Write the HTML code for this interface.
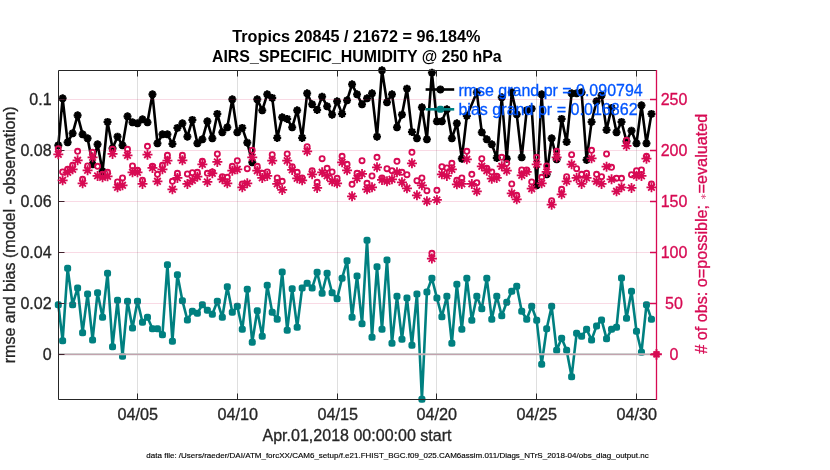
<!DOCTYPE html>
<html><head><meta charset="utf-8"><title>obs diag</title>
<style>html,body{margin:0;padding:0;background:#fff}svg{display:block;will-change:transform}text{font-family:"Liberation Sans",sans-serif}</style></head><body>
<svg width="830" height="470" viewBox="0 0 830 470">
<defs>
<g id="k"><circle r="3.0" fill="#000"/><path d="M-4 0H4M0-4V4M-2.85-2.85L2.85 2.85M-2.85 2.85L2.85-2.85" stroke="#000" stroke-width="2.3" fill="none"/></g>
<rect id="t" x="-3.5" y="-3.5" width="7" height="7" rx="2.5" fill="#008080"/>
<circle id="o" r="2.55" fill="none" stroke="#d70a53" stroke-width="1.85"/>
<path id="s" d="M-5 0H5M0-5V5M-3.3-3.3L3.3 3.3M-3.3 3.3L3.3-3.3" stroke="#d70a53" stroke-width="1.8" fill="none"/>
</defs>
<rect width="830" height="470" fill="#fff"/>
<g stroke="#262626" stroke-opacity="0.15" stroke-width="1" fill="none">
<path d="M137.5 70.5V399.5"/>
<path d="M237.5 70.5V399.5"/>
<path d="M337.5 70.5V399.5"/>
<path d="M436.5 70.5V399.5"/>
<path d="M536.5 70.5V399.5"/>
<path d="M636.5 70.5V399.5"/>
</g>
<polyline points="58.3,304.7 62.64,340.7 67.63,268.3 72.62,304.7 77.61,287.9 82.6,332.7 87.59,293.9 92.58,339.9 97.57,292.7 102.56,317.3 107.55,273.3 112.54,346.7 117.53,300.3 122.52,356.3 127.51,301.3 132.5,327.9 137.49,301.3 142.48,322.3 147.47,317.3 152.46,328.7 157.45,328.7 162.44,334.7 167.43,264.7 172.42,341.3 177.41,274.7 182.4,300.7 187.39,319.9 192.38,311.3 197.37,313.3 202.36,304.7 207.35,310.3 212.34,314.3 217.33,301.3 222.32,317.3 227.31,286.7 232.3,312.3 237.29,306.3 242.28,329.3 247.27,289.3 252.26,342.3 257.25,310.7 262.24,336.3 267.23,285.3 272.22,312.3 277.21,319.3 282.2,271.9 287.19,330.3 292.18,288.7 297.17,327.3 302.16,287.9 307.15,283.3 312.14,287.9 317.13,272.3 322.12,293.3 327.11,273.3 332.1,292.7 337.09,298.7 342.08,278.3 347.07,260.7 352.06,317.3 357.05,275.9 362.04,323.8 367.03,240.3 372.02,337.3 377.01,266.7 382.0,329.3 386.99,259.9 391.98,343.3 396.97,296.3 401.96,339.3 406.95,297.9 411.94,345.3 416.93,293.9 421.92,399.3 426.91,291.9 431.9,278.3 436.89,297.9 441.88,316.7 446.87,296.3 451.86,343.3 456.85,284.3 461.84,329.3 466.83,278.3 471.82,320.3 476.81,296.3 481.8,308.7 486.79,278.3 491.78,319.3 496.77,296.3 501.76,315.7 506.75,302.3 511.74,291.3 516.73,286.3 521.72,311.3 526.71,319.3 531.7,306.3 536.69,320.3 541.68,364.3 546.67,328.7 551.66,306.3 556.65,350.3 561.64,338.3 566.63,350.3 571.62,376.7 576.61,333.3 581.6,336.3 586.59,329.3 591.58,339.9 596.57,325.9 601.56,319.9 606.55,338.7 611.54,329.3 616.53,327.3 621.52,277.9 626.51,318.3 631.5,291.3 636.49,331.3 641.48,352.3 646.47,304.7 651.46,319.3" fill="none" stroke="#008080" stroke-width="2.6" stroke-linejoin="round"/>
<polyline points="58.3,145.3 62.64,98.3 67.63,142.3 72.62,133.3 77.61,115.3 82.6,134.3 87.59,138.3 92.58,164.3 97.57,144.3 102.56,171.3 107.55,121.9 112.54,148.3 117.53,136.7 122.52,145.3 127.51,116.3 132.5,122.3 137.49,123.3 142.48,119.3 147.47,122.3 152.46,94.3 157.45,143.3 162.44,134.3 167.43,134.3 172.42,143.9 177.41,127.9 182.4,123.3 187.39,136.7 192.38,119.9 197.37,143.3 202.36,139.3 207.35,121.3 212.34,138.3 217.33,113.9 222.32,132.3 227.31,127.3 232.3,99.3 237.29,132.3 242.28,127.9 247.27,142.7 252.26,162.3 257.25,99.3 262.24,110.3 267.23,94.3 272.22,97.9 277.21,137.9 282.2,117.3 287.19,118.9 292.18,127.3 297.17,110.3 302.16,137.9 307.15,93.3 312.14,104.3 317.13,109.9 322.12,96.7 327.11,106.3 332.1,114.7 337.09,101.3 342.08,113.9 347.07,100.3 352.06,84.3 357.05,94.3 362.04,104.3 367.03,98.3 372.02,93.3 377.01,136.7 382.0,70.3 386.99,102.3 391.98,94.3 396.97,127.3 401.96,114.7 406.95,88.7 411.94,131.9 416.93,138.3 421.92,107.3 426.91,139.3 431.9,72.7 436.89,121.3 441.88,121.3 446.87,109.3 451.86,138.3 456.85,123.3 461.84,158.7 466.83,115.9 471.82,104.3 476.81,92.3 481.8,132.3 486.79,139.3 491.78,144.3 496.77,157.9 501.76,97.3 506.75,158.7 511.74,92.3 516.73,114.3 521.72,157.3 526.71,110.3 531.7,108.7 536.69,185.3 541.68,94.3 546.67,174.3 551.66,138.3 556.65,159.3 561.64,118.9 566.63,141.9 571.62,93.3 576.61,93.3 581.6,92.3 586.59,159.9 591.58,121.9 596.57,101.3 601.56,95.3 606.55,129.9 611.54,107.9 616.53,132.3 621.52,121.9 626.51,141.3 631.5,130.7 636.49,143.3 641.48,105.3 646.47,143.3 651.46,113.9" fill="none" stroke="#000" stroke-width="2.6" stroke-linejoin="round"/>
<g><use href="#t" x="58.3" y="304.7"/><use href="#t" x="62.64" y="340.7"/><use href="#t" x="67.63" y="268.3"/><use href="#t" x="72.62" y="304.7"/><use href="#t" x="77.61" y="287.9"/><use href="#t" x="82.6" y="332.7"/><use href="#t" x="87.59" y="293.9"/><use href="#t" x="92.58" y="339.9"/><use href="#t" x="97.57" y="292.7"/><use href="#t" x="102.56" y="317.3"/><use href="#t" x="107.55" y="273.3"/><use href="#t" x="112.54" y="346.7"/><use href="#t" x="117.53" y="300.3"/><use href="#t" x="122.52" y="356.3"/><use href="#t" x="127.51" y="301.3"/><use href="#t" x="132.5" y="327.9"/><use href="#t" x="137.49" y="301.3"/><use href="#t" x="142.48" y="322.3"/><use href="#t" x="147.47" y="317.3"/><use href="#t" x="152.46" y="328.7"/><use href="#t" x="157.45" y="328.7"/><use href="#t" x="162.44" y="334.7"/><use href="#t" x="167.43" y="264.7"/><use href="#t" x="172.42" y="341.3"/><use href="#t" x="177.41" y="274.7"/><use href="#t" x="182.4" y="300.7"/><use href="#t" x="187.39" y="319.9"/><use href="#t" x="192.38" y="311.3"/><use href="#t" x="197.37" y="313.3"/><use href="#t" x="202.36" y="304.7"/><use href="#t" x="207.35" y="310.3"/><use href="#t" x="212.34" y="314.3"/><use href="#t" x="217.33" y="301.3"/><use href="#t" x="222.32" y="317.3"/><use href="#t" x="227.31" y="286.7"/><use href="#t" x="232.3" y="312.3"/><use href="#t" x="237.29" y="306.3"/><use href="#t" x="242.28" y="329.3"/><use href="#t" x="247.27" y="289.3"/><use href="#t" x="252.26" y="342.3"/><use href="#t" x="257.25" y="310.7"/><use href="#t" x="262.24" y="336.3"/><use href="#t" x="267.23" y="285.3"/><use href="#t" x="272.22" y="312.3"/><use href="#t" x="277.21" y="319.3"/><use href="#t" x="282.2" y="271.9"/><use href="#t" x="287.19" y="330.3"/><use href="#t" x="292.18" y="288.7"/><use href="#t" x="297.17" y="327.3"/><use href="#t" x="302.16" y="287.9"/><use href="#t" x="307.15" y="283.3"/><use href="#t" x="312.14" y="287.9"/><use href="#t" x="317.13" y="272.3"/><use href="#t" x="322.12" y="293.3"/><use href="#t" x="327.11" y="273.3"/><use href="#t" x="332.1" y="292.7"/><use href="#t" x="337.09" y="298.7"/><use href="#t" x="342.08" y="278.3"/><use href="#t" x="347.07" y="260.7"/><use href="#t" x="352.06" y="317.3"/><use href="#t" x="357.05" y="275.9"/><use href="#t" x="362.04" y="323.8"/><use href="#t" x="367.03" y="240.3"/><use href="#t" x="372.02" y="337.3"/><use href="#t" x="377.01" y="266.7"/><use href="#t" x="382.0" y="329.3"/><use href="#t" x="386.99" y="259.9"/><use href="#t" x="391.98" y="343.3"/><use href="#t" x="396.97" y="296.3"/><use href="#t" x="401.96" y="339.3"/><use href="#t" x="406.95" y="297.9"/><use href="#t" x="411.94" y="345.3"/><use href="#t" x="416.93" y="293.9"/><use href="#t" x="421.92" y="399.3"/><use href="#t" x="426.91" y="291.9"/><use href="#t" x="431.9" y="278.3"/><use href="#t" x="436.89" y="297.9"/><use href="#t" x="441.88" y="316.7"/><use href="#t" x="446.87" y="296.3"/><use href="#t" x="451.86" y="343.3"/><use href="#t" x="456.85" y="284.3"/><use href="#t" x="461.84" y="329.3"/><use href="#t" x="466.83" y="278.3"/><use href="#t" x="471.82" y="320.3"/><use href="#t" x="476.81" y="296.3"/><use href="#t" x="481.8" y="308.7"/><use href="#t" x="486.79" y="278.3"/><use href="#t" x="491.78" y="319.3"/><use href="#t" x="496.77" y="296.3"/><use href="#t" x="501.76" y="315.7"/><use href="#t" x="506.75" y="302.3"/><use href="#t" x="511.74" y="291.3"/><use href="#t" x="516.73" y="286.3"/><use href="#t" x="521.72" y="311.3"/><use href="#t" x="526.71" y="319.3"/><use href="#t" x="531.7" y="306.3"/><use href="#t" x="536.69" y="320.3"/><use href="#t" x="541.68" y="364.3"/><use href="#t" x="546.67" y="328.7"/><use href="#t" x="551.66" y="306.3"/><use href="#t" x="556.65" y="350.3"/><use href="#t" x="561.64" y="338.3"/><use href="#t" x="566.63" y="350.3"/><use href="#t" x="571.62" y="376.7"/><use href="#t" x="576.61" y="333.3"/><use href="#t" x="581.6" y="336.3"/><use href="#t" x="586.59" y="329.3"/><use href="#t" x="591.58" y="339.9"/><use href="#t" x="596.57" y="325.9"/><use href="#t" x="601.56" y="319.9"/><use href="#t" x="606.55" y="338.7"/><use href="#t" x="611.54" y="329.3"/><use href="#t" x="616.53" y="327.3"/><use href="#t" x="621.52" y="277.9"/><use href="#t" x="626.51" y="318.3"/><use href="#t" x="631.5" y="291.3"/><use href="#t" x="636.49" y="331.3"/><use href="#t" x="641.48" y="352.3"/><use href="#t" x="646.47" y="304.7"/><use href="#t" x="651.46" y="319.3"/></g>
<g><use href="#k" x="58.3" y="145.3"/><use href="#k" x="62.64" y="98.3"/><use href="#k" x="67.63" y="142.3"/><use href="#k" x="72.62" y="133.3"/><use href="#k" x="77.61" y="115.3"/><use href="#k" x="82.6" y="134.3"/><use href="#k" x="87.59" y="138.3"/><use href="#k" x="92.58" y="164.3"/><use href="#k" x="97.57" y="144.3"/><use href="#k" x="102.56" y="171.3"/><use href="#k" x="107.55" y="121.9"/><use href="#k" x="112.54" y="148.3"/><use href="#k" x="117.53" y="136.7"/><use href="#k" x="122.52" y="145.3"/><use href="#k" x="127.51" y="116.3"/><use href="#k" x="132.5" y="122.3"/><use href="#k" x="137.49" y="123.3"/><use href="#k" x="142.48" y="119.3"/><use href="#k" x="147.47" y="122.3"/><use href="#k" x="152.46" y="94.3"/><use href="#k" x="157.45" y="143.3"/><use href="#k" x="162.44" y="134.3"/><use href="#k" x="167.43" y="134.3"/><use href="#k" x="172.42" y="143.9"/><use href="#k" x="177.41" y="127.9"/><use href="#k" x="182.4" y="123.3"/><use href="#k" x="187.39" y="136.7"/><use href="#k" x="192.38" y="119.9"/><use href="#k" x="197.37" y="143.3"/><use href="#k" x="202.36" y="139.3"/><use href="#k" x="207.35" y="121.3"/><use href="#k" x="212.34" y="138.3"/><use href="#k" x="217.33" y="113.9"/><use href="#k" x="222.32" y="132.3"/><use href="#k" x="227.31" y="127.3"/><use href="#k" x="232.3" y="99.3"/><use href="#k" x="237.29" y="132.3"/><use href="#k" x="242.28" y="127.9"/><use href="#k" x="247.27" y="142.7"/><use href="#k" x="252.26" y="162.3"/><use href="#k" x="257.25" y="99.3"/><use href="#k" x="262.24" y="110.3"/><use href="#k" x="267.23" y="94.3"/><use href="#k" x="272.22" y="97.9"/><use href="#k" x="277.21" y="137.9"/><use href="#k" x="282.2" y="117.3"/><use href="#k" x="287.19" y="118.9"/><use href="#k" x="292.18" y="127.3"/><use href="#k" x="297.17" y="110.3"/><use href="#k" x="302.16" y="137.9"/><use href="#k" x="307.15" y="93.3"/><use href="#k" x="312.14" y="104.3"/><use href="#k" x="317.13" y="109.9"/><use href="#k" x="322.12" y="96.7"/><use href="#k" x="327.11" y="106.3"/><use href="#k" x="332.1" y="114.7"/><use href="#k" x="337.09" y="101.3"/><use href="#k" x="342.08" y="113.9"/><use href="#k" x="347.07" y="100.3"/><use href="#k" x="352.06" y="84.3"/><use href="#k" x="357.05" y="94.3"/><use href="#k" x="362.04" y="104.3"/><use href="#k" x="367.03" y="98.3"/><use href="#k" x="372.02" y="93.3"/><use href="#k" x="377.01" y="136.7"/><use href="#k" x="382.0" y="70.3"/><use href="#k" x="386.99" y="102.3"/><use href="#k" x="391.98" y="94.3"/><use href="#k" x="396.97" y="127.3"/><use href="#k" x="401.96" y="114.7"/><use href="#k" x="406.95" y="88.7"/><use href="#k" x="411.94" y="131.9"/><use href="#k" x="416.93" y="138.3"/><use href="#k" x="421.92" y="107.3"/><use href="#k" x="426.91" y="139.3"/><use href="#k" x="431.9" y="72.7"/><use href="#k" x="436.89" y="121.3"/><use href="#k" x="441.88" y="121.3"/><use href="#k" x="446.87" y="109.3"/><use href="#k" x="451.86" y="138.3"/><use href="#k" x="456.85" y="123.3"/><use href="#k" x="461.84" y="158.7"/><use href="#k" x="466.83" y="115.9"/><use href="#k" x="476.81" y="92.3"/><use href="#k" x="481.8" y="132.3"/><use href="#k" x="486.79" y="139.3"/><use href="#k" x="491.78" y="144.3"/><use href="#k" x="496.77" y="157.9"/><use href="#k" x="501.76" y="97.3"/><use href="#k" x="506.75" y="158.7"/><use href="#k" x="511.74" y="92.3"/><use href="#k" x="516.73" y="114.3"/><use href="#k" x="521.72" y="157.3"/><use href="#k" x="526.71" y="110.3"/><use href="#k" x="531.7" y="108.7"/><use href="#k" x="536.69" y="185.3"/><use href="#k" x="541.68" y="94.3"/><use href="#k" x="546.67" y="174.3"/><use href="#k" x="551.66" y="138.3"/><use href="#k" x="556.65" y="159.3"/><use href="#k" x="561.64" y="118.9"/><use href="#k" x="566.63" y="141.9"/><use href="#k" x="571.62" y="93.3"/><use href="#k" x="576.61" y="93.3"/><use href="#k" x="581.6" y="92.3"/><use href="#k" x="586.59" y="159.9"/><use href="#k" x="591.58" y="121.9"/><use href="#k" x="596.57" y="101.3"/><use href="#k" x="601.56" y="95.3"/><use href="#k" x="606.55" y="129.9"/><use href="#k" x="611.54" y="107.9"/><use href="#k" x="616.53" y="132.3"/><use href="#k" x="621.52" y="121.9"/><use href="#k" x="626.51" y="141.3"/><use href="#k" x="631.5" y="130.7"/><use href="#k" x="636.49" y="143.3"/><use href="#k" x="641.48" y="105.3"/><use href="#k" x="646.47" y="143.3"/><use href="#k" x="651.46" y="113.9"/></g>
<path d="M58.5 354.3H656.5" stroke="#bfbfbf" stroke-width="2" fill="none"/>
<g>
<path d="M425.6 89.5H454.2" stroke="#000" stroke-width="2.6"/><use href="#k" x="440.4" y="89.5"/>
<path d="M425.6 109.3H454.2" stroke="#008080" stroke-width="2.6"/><use href="#t" x="440.4" y="109.3"/>
<text x="458.4" y="95.6" font-size="16.6" fill="#0055ff" stroke="#0055ff" stroke-width="0.3" textLength="184.3" lengthAdjust="spacingAndGlyphs">rmse grand pr = 0.090794</text>
<text x="458.4" y="115.2" font-size="16.6" fill="#0055ff" stroke="#0055ff" stroke-width="0.3" textLength="179.2" lengthAdjust="spacingAndGlyphs">bias grand pr = 0.016862</text>
</g>
<g stroke="#262626" stroke-width="1" fill="none">
<path d="M58.5 70.5V399.5H656.5"/>
<path d="M137.5 399.5v-6"/>
<path d="M237.5 399.5v-6"/>
<path d="M337.5 399.5v-6"/>
<path d="M436.5 399.5v-6"/>
<path d="M536.5 399.5v-6"/>
<path d="M636.5 399.5v-6"/>
<path d="M58.5 99.5h6"/>
<path d="M58.5 150.5h6"/>
<path d="M58.5 201.5h6"/>
<path d="M58.5 252.5h6"/>
<path d="M58.5 303.5h6"/>
<path d="M58.5 354.5h6"/>
</g>
<g stroke="#d70a53" stroke-opacity="0.15" stroke-width="1" fill="none">
<path d="M58.5 99.5H656.5"/>
<path d="M58.5 150.5H656.5"/>
<path d="M58.5 201.5H656.5"/>
<path d="M58.5 252.5H656.5"/>
<path d="M58.5 303.5H656.5"/>
<path d="M58.5 354.5H656.5"/>
</g>
<g>
<use href="#s" x="58.3" y="154.3"/><use href="#o" x="58.3" y="148.7"/>
<use href="#s" x="62.64" y="180.3"/><use href="#o" x="62.64" y="171.9"/>
<use href="#s" x="67.63" y="172.3"/><use href="#o" x="67.63" y="169.3"/>
<use href="#s" x="72.62" y="169.3"/><use href="#o" x="72.62" y="165.3"/>
<use href="#s" x="77.61" y="160.3"/><use href="#o" x="77.61" y="151.3"/>
<use href="#s" x="82.6" y="183.3"/><use href="#o" x="82.6" y="179.3"/>
<use href="#s" x="87.59" y="170.3"/><use href="#o" x="87.59" y="165.9"/>
<use href="#s" x="92.58" y="157.3"/><use href="#o" x="92.58" y="152.3"/>
<use href="#s" x="97.57" y="175.9"/><use href="#o" x="97.57" y="166.3"/>
<use href="#s" x="102.56" y="177.3"/><use href="#o" x="102.56" y="174.3"/>
<use href="#s" x="107.55" y="176.3"/><use href="#o" x="107.55" y="172.3"/>
<use href="#s" x="112.54" y="153.9"/><use href="#o" x="112.54" y="149.3"/>
<use href="#s" x="117.53" y="187.3"/><use href="#o" x="117.53" y="181.9"/>
<use href="#s" x="122.52" y="185.3"/><use href="#o" x="122.52" y="177.9"/>
<use href="#s" x="127.51" y="155.3"/><use href="#o" x="127.51" y="149.3"/>
<use href="#s" x="132.5" y="172.3"/><use href="#o" x="132.5" y="165.9"/>
<use href="#s" x="137.49" y="172.3"/><use href="#o" x="137.49" y="170.3"/>
<use href="#s" x="142.48" y="183.9"/><use href="#o" x="142.48" y="180.3"/>
<use href="#s" x="147.47" y="154.7"/><use href="#o" x="147.47" y="146.3"/>
<use href="#s" x="152.46" y="167.9"/><use href="#o" x="152.46" y="166.3"/>
<use href="#s" x="157.45" y="181.3"/><use href="#o" x="157.45" y="174.3"/>
<use href="#s" x="162.44" y="169.3"/><use href="#o" x="162.44" y="165.3"/>
<use href="#s" x="167.43" y="160.7"/><use href="#o" x="167.43" y="155.3"/>
<use href="#s" x="172.42" y="189.3"/><use href="#o" x="172.42" y="181.3"/>
<use href="#s" x="177.41" y="177.9"/><use href="#o" x="177.41" y="173.3"/>
<use href="#s" x="182.4" y="160.3"/><use href="#o" x="182.4" y="155.3"/>
<use href="#s" x="187.39" y="183.9"/><use href="#o" x="187.39" y="173.9"/>
<use href="#s" x="192.38" y="180.3"/><use href="#o" x="192.38" y="172.7"/>
<use href="#s" x="197.37" y="176.7"/><use href="#o" x="197.37" y="172.3"/>
<use href="#s" x="202.36" y="164.3"/><use href="#o" x="202.36" y="161.3"/>
<use href="#s" x="207.35" y="181.9"/><use href="#o" x="207.35" y="173.3"/>
<use href="#s" x="212.34" y="173.3"/><use href="#o" x="212.34" y="171.9"/>
<use href="#s" x="217.33" y="161.9"/><use href="#o" x="217.33" y="153.9"/>
<use href="#s" x="222.32" y="179.3"/><use href="#o" x="222.32" y="176.7"/>
<use href="#s" x="227.31" y="183.3"/><use href="#o" x="227.31" y="177.3"/>
<use href="#s" x="232.3" y="170.7"/><use href="#o" x="232.3" y="166.3"/>
<use href="#s" x="237.29" y="169.3"/><use href="#o" x="237.29" y="160.7"/>
<use href="#s" x="242.28" y="187.3"/><use href="#o" x="242.28" y="183.9"/>
<use href="#s" x="247.27" y="183.3"/><use href="#o" x="247.27" y="168.7"/>
<use href="#s" x="252.26" y="157.3"/><use href="#o" x="252.26" y="150.3"/>
<use href="#s" x="257.25" y="170.7"/><use href="#o" x="257.25" y="166.3"/>
<use href="#s" x="262.24" y="177.9"/><use href="#o" x="262.24" y="173.3"/>
<use href="#s" x="267.23" y="175.9"/><use href="#o" x="267.23" y="171.9"/>
<use href="#s" x="272.22" y="160.7"/><use href="#o" x="272.22" y="154.7"/>
<use href="#s" x="277.21" y="183.9"/><use href="#o" x="277.21" y="177.9"/>
<use href="#s" x="282.2" y="189.9"/><use href="#o" x="282.2" y="181.3"/>
<use href="#s" x="287.19" y="160.7"/><use href="#o" x="287.19" y="153.9"/>
<use href="#s" x="292.18" y="169.9"/><use href="#o" x="292.18" y="166.7"/>
<use href="#s" x="297.17" y="178.3"/><use href="#o" x="297.17" y="172.3"/>
<use href="#s" x="302.16" y="180.3"/><use href="#o" x="302.16" y="177.9"/>
<use href="#s" x="307.15" y="151.3"/><use href="#o" x="307.15" y="146.7"/>
<use href="#s" x="312.14" y="174.3"/><use href="#o" x="312.14" y="170.7"/>
<use href="#s" x="317.13" y="187.9"/><use href="#o" x="317.13" y="182.3"/>
<use href="#s" x="322.12" y="172.3"/><use href="#o" x="322.12" y="158.7"/>
<use href="#s" x="327.11" y="175.9"/><use href="#o" x="327.11" y="168.3"/>
<use href="#s" x="332.1" y="181.3"/><use href="#o" x="332.1" y="171.9"/>
<use href="#s" x="337.09" y="183.3"/><use href="#o" x="337.09" y="178.3"/>
<use href="#s" x="342.08" y="162.3"/><use href="#o" x="342.08" y="156.3"/>
<use href="#s" x="347.07" y="170.3"/><use href="#o" x="347.07" y="164.3"/>
<use href="#s" x="352.06" y="196.3"/><use href="#o" x="352.06" y="184.3"/>
<use href="#s" x="357.05" y="178.3"/><use href="#o" x="357.05" y="173.3"/>
<use href="#s" x="362.04" y="173.9"/><use href="#o" x="362.04" y="160.7"/>
<use href="#s" x="367.03" y="189.3"/><use href="#o" x="367.03" y="183.3"/>
<use href="#s" x="372.02" y="187.3"/><use href="#o" x="372.02" y="175.9"/>
<use href="#s" x="377.01" y="167.3"/><use href="#o" x="377.01" y="157.3"/>
<use href="#s" x="382.0" y="179.9"/><use href="#o" x="382.0" y="177.9"/>
<use href="#s" x="386.99" y="181.3"/><use href="#o" x="386.99" y="168.7"/>
<use href="#s" x="391.98" y="179.3"/><use href="#o" x="391.98" y="170.7"/>
<use href="#s" x="396.97" y="172.3"/><use href="#o" x="396.97" y="161.3"/>
<use href="#s" x="401.96" y="182.3"/><use href="#o" x="401.96" y="172.3"/>
<use href="#s" x="406.95" y="188.3"/><use href="#o" x="406.95" y="174.7"/>
<use href="#s" x="411.94" y="163.3"/><use href="#o" x="411.94" y="152.3"/>
<use href="#s" x="416.93" y="195.3"/><use href="#o" x="416.93" y="180.7"/>
<use href="#s" x="421.92" y="185.3"/><use href="#o" x="421.92" y="177.9"/>
<use href="#s" x="426.91" y="201.3"/><use href="#o" x="426.91" y="190.7"/>
<use href="#s" x="431.9" y="258.6"/><use href="#o" x="431.9" y="253.3"/>
<use href="#s" x="436.89" y="199.9"/><use href="#o" x="436.89" y="190.3"/>
<use href="#s" x="441.88" y="174.3"/><use href="#o" x="441.88" y="166.7"/>
<use href="#s" x="446.87" y="175.9"/><use href="#o" x="446.87" y="167.9"/>
<use href="#s" x="451.86" y="169.3"/><use href="#o" x="451.86" y="163.3"/>
<use href="#s" x="456.85" y="184.3"/><use href="#o" x="456.85" y="180.3"/>
<use href="#s" x="461.84" y="183.9"/><use href="#o" x="461.84" y="177.9"/>
<use href="#s" x="466.83" y="159.3"/><use href="#o" x="466.83" y="151.3"/>
<use href="#s" x="471.82" y="183.9"/><use href="#o" x="471.82" y="174.3"/>
<use href="#s" x="476.81" y="191.3"/><use href="#o" x="476.81" y="182.7"/>
<use href="#s" x="481.8" y="166.3"/><use href="#o" x="481.8" y="158.7"/>
<use href="#s" x="486.79" y="170.7"/><use href="#o" x="486.79" y="168.3"/>
<use href="#s" x="491.78" y="178.7"/><use href="#o" x="491.78" y="171.9"/>
<use href="#s" x="496.77" y="177.9"/><use href="#o" x="496.77" y="176.3"/>
<use href="#s" x="501.76" y="166.3"/><use href="#o" x="501.76" y="157.3"/>
<use href="#s" x="506.75" y="170.7"/><use href="#o" x="506.75" y="163.3"/>
<use href="#s" x="511.74" y="193.3"/><use href="#o" x="511.74" y="183.9"/>
<use href="#s" x="516.73" y="199.3"/><use href="#o" x="516.73" y="195.3"/>
<use href="#s" x="521.72" y="175.3"/><use href="#o" x="521.72" y="169.9"/>
<use href="#s" x="526.71" y="171.9"/><use href="#o" x="526.71" y="169.9"/>
<use href="#s" x="531.7" y="188.7"/><use href="#o" x="531.7" y="181.9"/>
<use href="#s" x="536.69" y="164.3"/><use href="#o" x="536.69" y="157.3"/>
<use href="#s" x="541.68" y="183.3"/><use href="#o" x="541.68" y="177.3"/>
<use href="#s" x="546.67" y="171.9"/><use href="#o" x="546.67" y="165.9"/>
<use href="#s" x="551.66" y="204.7"/><use href="#o" x="551.66" y="200.7"/>
<use href="#s" x="556.65" y="157.3"/><use href="#o" x="556.65" y="151.3"/>
<use href="#s" x="561.64" y="194.3"/><use href="#o" x="561.64" y="189.3"/>
<use href="#s" x="566.63" y="181.3"/><use href="#o" x="566.63" y="176.7"/>
<use href="#s" x="571.62" y="164.3"/><use href="#o" x="571.62" y="154.7"/>
<use href="#s" x="576.61" y="177.9"/><use href="#o" x="576.61" y="168.7"/>
<use href="#s" x="581.6" y="183.9"/><use href="#o" x="581.6" y="174.3"/>
<use href="#s" x="586.59" y="177.9"/><use href="#o" x="586.59" y="173.3"/>
<use href="#s" x="591.58" y="158.3"/><use href="#o" x="591.58" y="150.3"/>
<use href="#s" x="596.57" y="181.3"/><use href="#o" x="596.57" y="174.3"/>
<use href="#s" x="601.56" y="183.9"/><use href="#o" x="601.56" y="176.7"/>
<use href="#s" x="606.55" y="166.7"/><use href="#o" x="606.55" y="153.9"/>
<use href="#s" x="611.54" y="179.3"/><use href="#o" x="611.54" y="167.3"/>
<use href="#s" x="616.53" y="191.3"/><use href="#o" x="616.53" y="178.3"/>
<use href="#s" x="621.52" y="187.3"/><use href="#o" x="621.52" y="178.3"/>
<use href="#s" x="626.51" y="145.9"/><use href="#o" x="626.51" y="140.3"/>
<use href="#s" x="631.5" y="187.9"/><use href="#o" x="631.5" y="174.7"/>
<use href="#s" x="636.49" y="175.9"/><use href="#o" x="636.49" y="170.7"/>
<use href="#s" x="641.48" y="175.9"/><use href="#o" x="641.48" y="169.9"/>
<use href="#s" x="646.47" y="158.7"/><use href="#o" x="646.47" y="156.3"/>
<use href="#s" x="651.46" y="187.3"/><use href="#o" x="651.46" y="183.9"/>
<g transform="translate(656.5 354.3)"><circle r="3.3" fill="#d70a53"/><path d="M-5.4 0H5.4M0-5.4V5.4M-3-3L3 3M-3 3L3-3" stroke="#d70a53" stroke-width="1.9" fill="none"/></g>
</g>
<g stroke="#262626" stroke-width="1" fill="none"><path d="M58.5 70.5H656.5"/>
<path d="M137.5 70.5v6"/>
<path d="M237.5 70.5v6"/>
<path d="M337.5 70.5v6"/>
<path d="M436.5 70.5v6"/>
<path d="M536.5 70.5v6"/>
<path d="M636.5 70.5v6"/>
</g>
<g stroke="#d70a53" stroke-width="1.3" fill="none"><path d="M656.5 70.0V400.0"/>
<path d="M656.5 99.5h-6.5" stroke-width="1.5"/>
<path d="M656.5 150.5h-6.5" stroke-width="1.5"/>
<path d="M656.5 201.5h-6.5" stroke-width="1.5"/>
<path d="M656.5 252.5h-6.5" stroke-width="1.5"/>
<path d="M656.5 303.5h-6.5" stroke-width="1.5"/>
<path d="M656.5 354.5h-6.5" stroke-width="1.5"/>
</g>
<g font-size="16" fill="#262626" stroke="#262626" stroke-width="0.3" text-anchor="end">
<text x="51.6" y="104.6">0.1</text>
<text x="51.6" y="155.6">0.08</text>
<text x="51.6" y="206.6">0.06</text>
<text x="51.6" y="257.6">0.04</text>
<text x="51.6" y="308.6">0.02</text>
<text x="51.6" y="359.6">0</text>
</g>
<g font-size="16.2" fill="#262626" stroke="#262626" stroke-width="0.3" text-anchor="middle">
<text x="137.7" y="419.8">04/05</text>
<text x="237.7" y="419.8">04/10</text>
<text x="337.7" y="419.8">04/15</text>
<text x="436.7" y="419.8">04/20</text>
<text x="536.7" y="419.8">04/25</text>
<text x="636.7" y="419.8">04/30</text>
</g>
<g font-size="16" fill="#d70a53" stroke="#d70a53" stroke-width="0.3" text-anchor="middle">
<text x="674.0" y="104.9">250</text>
<text x="674.0" y="155.9">200</text>
<text x="674.0" y="206.9">150</text>
<text x="674.0" y="257.9">100</text>
<text x="674.0" y="308.9">50</text>
<text x="674.0" y="359.9">0</text>
</g>
<g font-size="16.4" font-weight="bold" fill="#000" text-anchor="middle">
<text x="356.4" y="42.4" textLength="248.2" lengthAdjust="spacingAndGlyphs">Tropics 20845 / 21672 = 96.184%</text>
<text x="356.8" y="61.6" textLength="289.6" lengthAdjust="spacingAndGlyphs">AIRS_SPECIFIC_HUMIDITY @ 250 hPa</text>
</g>
<text x="357.0" y="440.8" font-size="16.2" fill="#262626" stroke="#262626" stroke-width="0.3" text-anchor="middle" textLength="189" lengthAdjust="spacingAndGlyphs">Apr.01,2018 00:00:00 start</text>
<text x="397.5" y="457.7" font-size="8" fill="#000" stroke="#000" stroke-width="0.15" text-anchor="middle" textLength="502.3" lengthAdjust="spacingAndGlyphs">data file: /Users/raeder/DAI/ATM_forcXX/CAM6_setup/f.e21.FHIST_BGC.f09_025.CAM6assim.011/Diags_NTrS_2018-04/obs_diag_output.nc</text>
<text transform="translate(14.9 234.8) rotate(-90)" font-size="16.4" fill="#262626" stroke="#262626" stroke-width="0.3" text-anchor="middle" textLength="257" lengthAdjust="spacingAndGlyphs">rmse and bias (model - observation)</text>
<text transform="translate(707.3 233.8) rotate(-90)" font-size="16.2" fill="#d70a53" stroke="#d70a53" stroke-width="0.3" text-anchor="middle"># of obs: o=possible; <tspan font-size="8" dy="-1.6" fill-opacity="0.75" stroke="none">&#8727;</tspan><tspan dy="1.6">=evaluated</tspan></text>
</svg></body></html>
